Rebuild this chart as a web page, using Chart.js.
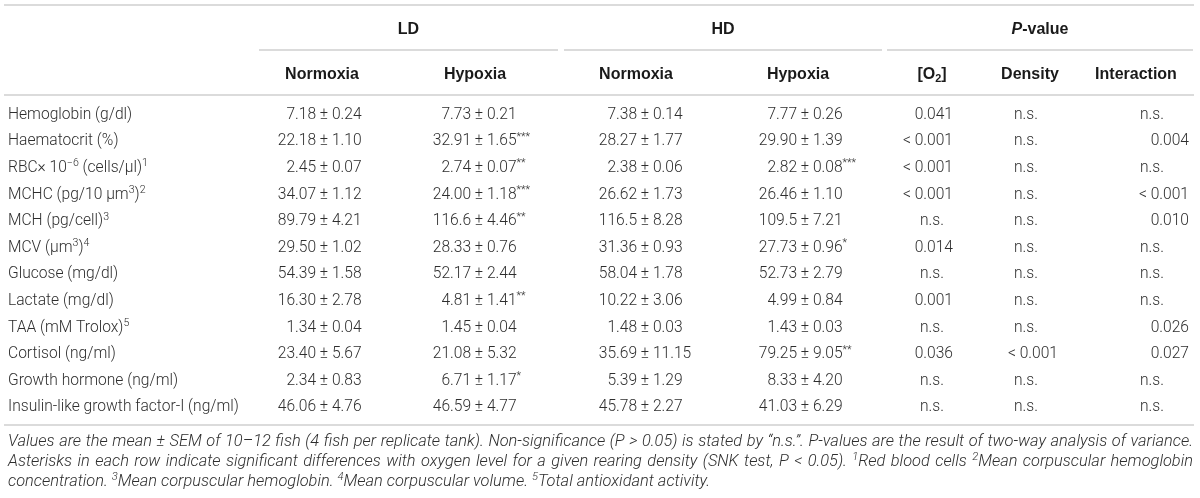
<!DOCTYPE html>
<html>
<head>
<meta charset="utf-8">
<script src="https://cdn.jsdelivr.net/npm/chart.js@4.4.1/dist/chart.umd.min.js"></script>
<style>
  html, body { margin: 0; padding: 0; background: #fff; }
  #wrap { width: 1200px; height: 498px; }
</style>
</head>
<body>
<div id="wrap"><canvas id="tableChart" width="1200" height="498"></canvas></div>
<script>
// ^{..} superscript, _{..} subscript, ~{..} italic
const rowLabels = [
  'Hemoglobin (g/dl)',
  'Haematocrit (%)',
  'RBC× 10^{−6} (cells/μl)^{1}',
  'MCHC (pg/10 μm^{3})^{2}',
  'MCH (pg/cell)^{3}',
  'MCV (μm^{3})^{4}',
  'Glucose (mg/dl)',
  'Lactate (mg/dl)',
  'TAA (mM Trolox)^{5}',
  'Cortisol (ng/ml)',
  'Growth hormone (ng/ml)',
  'Insulin-like growth factor-I (ng/ml)'
]

const groupLabels = ['LD', 'HD', '~{P}-value']
const columnLabels = ['Normoxia', 'Hypoxia', 'Normoxia', 'Hypoxia', '[O_{2}]', 'Density', 'Interaction']

const ldNormoxiaMean = [7.18, 22.18, 2.45, 34.07, 89.79, 29.50, 54.39, 16.30, 1.34, 23.40, 2.34, 46.06]
const ldNormoxiaSem  = [0.24, 1.10, 0.07, 1.12, 4.21, 1.02, 1.58, 2.78, 0.04, 5.67, 0.83, 4.76]
const ldHypoxiaMean  = [7.73, 32.91, 2.74, 24.00, 116.6, 28.33, 52.17, 4.81, 1.45, 21.08, 6.71, 46.59]
const ldHypoxiaSem   = [0.21, 1.65, 0.07, 1.18, 4.46, 0.76, 2.44, 1.41, 0.04, 5.32, 1.17, 4.77]
const ldHypoxiaSig   = ['', '***', '**', '***', '**', '', '', '**', '', '', '*', '']
const hdNormoxiaMean = [7.38, 28.27, 2.38, 26.62, 116.5, 31.36, 58.04, 10.22, 1.48, 35.69, 5.39, 45.78]
const hdNormoxiaSem  = [0.14, 1.77, 0.06, 1.73, 8.28, 0.93, 1.78, 3.06, 0.03, 11.15, 1.29, 2.27]
const hdHypoxiaMean  = [7.77, 29.90, 2.82, 26.46, 109.5, 27.73, 52.73, 4.99, 1.43, 79.25, 8.33, 41.03]
const hdHypoxiaSem   = [0.26, 1.39, 0.08, 1.10, 7.21, 0.96, 2.79, 0.84, 0.03, 9.05, 4.20, 6.29]
const hdHypoxiaSig   = ['', '', '***', '', '', '*', '', '', '', '**', '', '']

const pOxygen      = ['0.041', '< 0.001', '< 0.001', '< 0.001', 'n.s.', '0.014', 'n.s.', '0.001', 'n.s.', '0.036', 'n.s.', 'n.s.']
const pDensity     = ['n.s.', 'n.s.', 'n.s.', 'n.s.', 'n.s.', 'n.s.', 'n.s.', 'n.s.', 'n.s.', '< 0.001', 'n.s.', 'n.s.']
const pInteraction = ['n.s.', '0.004', 'n.s.', '< 0.001', '0.010', 'n.s.', 'n.s.', 'n.s.', '0.026', '0.027', 'n.s.', 'n.s.']

const footnoteLines = [
  'Values are the mean ± SEM of 10–12 fish (4 fish per replicate tank). Non-significance (P > 0.05) is stated by “n.s.”. P-values are the result of two-way analysis of variance.',
  'Asterisks in each row indicate significant differences with oxygen level for a given rearing density (SNK test, P < 0.05). ^{1}Red blood cells ^{2}Mean corpuscular hemoglobin',
  'concentration. ^{3}Mean corpuscular hemoglobin. ^{4}Mean corpuscular volume. ^{5}Total antioxidant activity.'
]

// layout (x scale runs 0..1200)
const COL = { label: 8, ldN: 324, ldH: 479, hdN: 645, hdH: 805, o2: 932, dens: 1026, inter: 1152 }
const P_RIGHT = { o2: 953, dens: 1058, inter: 1189 }
const headerCenters = [322, 475, 636, 798, 932, 1030, 1136]
const groupSpans = [[259, 558], [564, 882], [887, 1193]]

const BODY = { family: '"Roboto", "Liberation Sans", sans-serif', weight: 300, size: 15.6, color: '#2e2e2e' }
const HEAD = { family: '"Liberation Sans", Arial, sans-serif', weight: 'bold', size: 16, color: '#1a1a1a' }
const FOOT = { family: '"Roboto", "Liberation Sans", sans-serif', weight: 300, size: 15, color: '#2e2e2e', italic: true }
const RULE = '#cfcfcf'

function parseRich(str) {
  const segs = []
  const re = /([\^_~])\{([^}]*)\}/g
  let last = 0, m
  while ((m = re.exec(str)) !== null) {
    if (m.index > last) segs.push({ t: str.slice(last, m.index), mode: '' })
    segs.push({ t: m[2], mode: m[1] })
    last = re.lastIndex
  }
  if (last < str.length) segs.push({ t: str.slice(last), mode: '' })
  return segs
}

function segFont(seg, st) {
  const small = seg.mode === '^' || seg.mode === '_'
  const size = small ? st.size * 0.68 : st.size
  const ital = st.italic || seg.mode === '~' ? 'italic ' : ''
  return `${ital}${st.weight} ${size}px ${st.family}`
}

function richWidth(ctx, str, st) {
  let w = 0
  parseRich(str).forEach((s) => { ctx.font = segFont(s, st); w += ctx.measureText(s.t).width })
  return w
}

function drawRich(ctx, str, x, y, align, st) {
  const w = richWidth(ctx, str, st)
  let cx = align === 'right' ? x - w : align === 'center' ? x - w / 2 : x
  const base = y + st.size * 0.36
  ctx.fillStyle = st.color
  ctx.textAlign = 'left'
  ctx.textBaseline = 'alphabetic'
  parseRich(str).forEach((s) => {
    ctx.font = segFont(s, st)
    let dy = 0
    if (s.mode === '^') dy = -st.size * 0.36
    if (s.mode === '_') dy = st.size * 0.22
    ctx.fillText(s.t, cx, base + dy)
    cx += ctx.measureText(s.t).width
  })
  return w
}

function drawJustified(ctx, str, x, y, width, st) {
  const words = str.split(' ')
  const widths = words.map((w) => richWidth(ctx, w, st))
  const gap = (width - widths.reduce((a, b) => a + b, 0)) / (words.length - 1)
  let cx = x
  words.forEach((w, i) => { drawRich(ctx, w, cx, y, 'left', st); cx += widths[i] + gap })
}

function fmtMean(v) { return v >= 100 ? v.toFixed(1) : v.toFixed(2) }

function line(ctx, x1, x2, y) {
  ctx.beginPath()
  ctx.moveTo(x1, y)
  ctx.lineTo(x2, y)
  ctx.stroke()
}

function cells(colX) {
  return rowLabels.map((r) => ({ x: colX, y: r }))
}

const datasets = [
  { label: 'Parameter', data: cells(COL.label), kind: 'label' },
  { label: 'LD Normoxia', data: cells(COL.ldN), kind: 'pm', mean: ldNormoxiaMean, sem: ldNormoxiaSem },
  { label: 'LD Hypoxia', data: cells(COL.ldH), kind: 'pm', mean: ldHypoxiaMean, sem: ldHypoxiaSem, sig: ldHypoxiaSig },
  { label: 'HD Normoxia', data: cells(COL.hdN), kind: 'pm', mean: hdNormoxiaMean, sem: hdNormoxiaSem },
  { label: 'HD Hypoxia', data: cells(COL.hdH), kind: 'pm', mean: hdHypoxiaMean, sem: hdHypoxiaSem, sig: hdHypoxiaSig },
  { label: 'O2', data: cells(COL.o2), kind: 'p', text: pOxygen, right: P_RIGHT.o2 },
  { label: 'Density', data: cells(COL.dens), kind: 'p', text: pDensity, right: P_RIGHT.dens },
  { label: 'Interaction', data: cells(COL.inter), kind: 'p', text: pInteraction, right: P_RIGHT.inter }
]

const tablePlugin = {
  id: 'tableText',
  afterDatasetsDraw(chart) {
    const ctx = chart.ctx
    const xs = chart.scales.x
    const ys = chart.scales.y
    ctx.save()

    // rules
    ctx.strokeStyle = RULE
    ctx.lineWidth = 1.5
    const left = xs.getPixelForValue(4), right = xs.getPixelForValue(1194)
    line(ctx, left, right, ys.top - 95)
    line(ctx, left, right, ys.top - 5)
    line(ctx, left, right, ys.bottom + 6)
    groupSpans.forEach((s) => line(ctx, xs.getPixelForValue(s[0]), xs.getPixelForValue(s[1]), ys.top - 50))

    // headers
    groupLabels.forEach((g, i) => {
      const c = (groupSpans[i][0] + groupSpans[i][1]) / 2
      drawRich(ctx, g, xs.getPixelForValue(c), ys.top - 72, 'center', HEAD)
    })
    columnLabels.forEach((c, i) => {
      drawRich(ctx, c, xs.getPixelForValue(headerCenters[i]), ys.top - 27, 'center', HEAD)
    })

    // cells
    ctx.font = `${BODY.weight} ${BODY.size}px ${BODY.family}`
    const pmW = ctx.measureText('±').width
    const spW = ctx.measureText(' ').width
    chart.data.datasets.forEach((ds, di) => {
      const meta = chart.getDatasetMeta(di)
      meta.data.forEach((pt, i) => {
        const x = pt.x, y = pt.y
        if (ds.kind === 'label') {
          drawRich(ctx, rowLabels[i], x, y, 'left', BODY)
        } else if (ds.kind === 'pm') {
          drawRich(ctx, fmtMean(ds.mean[i]), x - pmW / 2 - spW, y, 'right', BODY)
          drawRich(ctx, '±', x, y, 'center', BODY)
          const sig = ds.sig && ds.sig[i] ? '^{' + ds.sig[i] + '}' : ''
          drawRich(ctx, ds.sem[i].toFixed(2) + sig, x + pmW / 2 + spW, y, 'left', BODY)
        } else {
          const t = ds.text[i]
          if (t === 'n.s.') drawRich(ctx, t, x, y, 'center', BODY)
          else drawRich(ctx, t, xs.getPixelForValue(ds.right), y, 'right', BODY)
        }
      })
    })

    // footnote: fit the first line to the table width, then justify
    const fx = xs.getPixelForValue(8), fw = xs.getPixelForValue(1193) - fx
    const natural = richWidth(ctx, footnoteLines[0], FOOT)
    const foot = Object.assign({}, FOOT, { size: FOOT.size * fw / natural * 0.985 })
    footnoteLines.forEach((l, i) => {
      const y = ys.bottom + 27 - foot.size * 0.36 + i * 20
      if (i < footnoteLines.length - 1) drawJustified(ctx, l, fx, y, fw, foot)
      else drawRich(ctx, l, fx, y, 'left', foot)
    })
    ctx.restore()
  }
}

new Chart(document.getElementById('tableChart').getContext('2d'), {
  type: 'scatter',
  data: { datasets: datasets },
  options: {
    responsive: false,
    animation: false,
    layout: { padding: { top: 100, bottom: 79, left: 0, right: 0 } },
    elements: { point: { radius: 0, hoverRadius: 0 } },
    plugins: { legend: { display: false }, tooltip: { enabled: false } },
    scales: {
      x: { type: 'linear', min: 0, max: 1200, display: false },
      y: { type: 'category', labels: rowLabels, offset: true, display: false }
    }
  },
  plugins: [tablePlugin]
})
</script>
</body>
</html>
